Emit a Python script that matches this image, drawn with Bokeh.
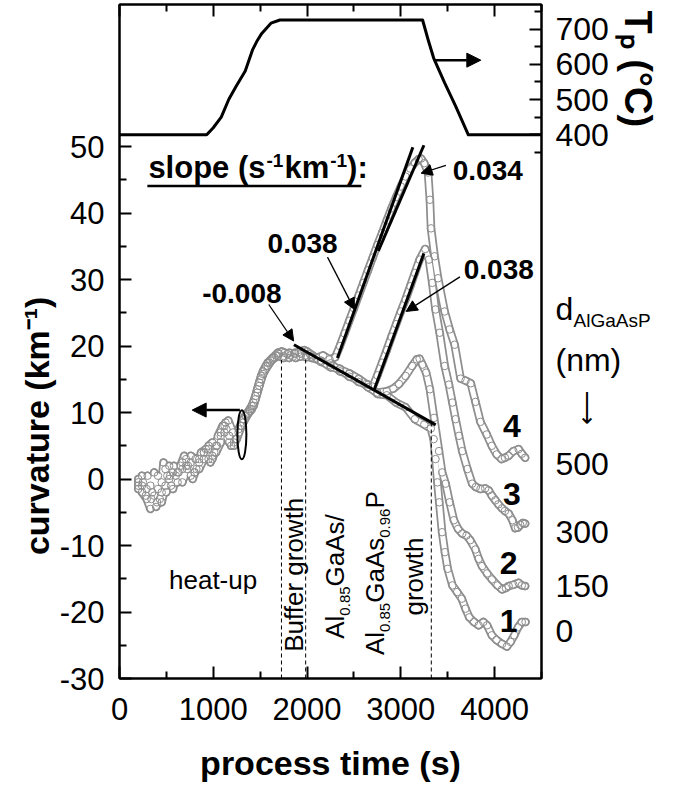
from math import pi
from bokeh.plotting import figure
from bokeh.models import (Range1d, LinearAxis, FixedTicker, Label, Arrow,
                          NormalHead, CustomJSTickFormatter)
from bokeh.embed import file_html
from bokeh.resources import INLINE

FONT = "Liberation Sans"

# ---------------- data ----------------
# curve 1 : d_AlGaAsP = 0 nm
c1_t = [200, 240, 290, 340, 390, 430, 470, 510, 550, 600, 650, 690, 730, 780, 820, 870, 920, 970, 1010, 1050,
        1100, 1140, 1190, 1240, 1290, 1340, 1390, 1430, 1470, 1510, 1550, 1600, 1650, 1700, 1760, 1820, 1880, 1940,
        2000, 2060, 2150, 2250, 2350, 2450, 2550, 2650, 2750, 2850, 2950, 3050, 3150, 3250, 3320, 3350, 3370, 3390,
        3410, 3440, 3470, 3500, 3550, 3600, 3650, 3690, 3730, 3780, 3830, 3880, 3920, 3970, 4020, 4080, 4130, 4170,
        4210, 4250, 4290, 4330]
c1_k = [-0.5, 0.5, -1.5, -3.0, -4.2, -3.0, 2.5, 0.5, -1.0, 0.5, 2.0, 3.5, 2.0, 0.0, 1.5, 4.0, 4.5, 2.5, 4.0, 6.5,
        8.0, 7.5, 5.0, 6.0, 8.0, 9.5, 10.5, 11.0, 13.0, 15.0, 16.5, 17.5, 18.3, 18.8, 19.0, 18.6, 18.2, 18.8,
        19.2, 18.6, 17.6, 17.4, 16.2, 15.8, 14.6, 14.2, 12.8, 12.6, 11.5, 10.8, 9.0, 8.2, 7.6, 6.0, 3.0, -0.5,
        -3.5, -8.0, -11.0, -13.5, -16.0, -17.0, -18.0, -19.5, -20.8, -21.5, -22.0, -21.5, -22.0, -23.5, -24.2,
        -24.8, -25.2, -24.5, -23.5, -22.3, -21.5, -21.5]
# curve 2 : 150 nm
c2_t = [200, 250, 300, 350, 400, 450, 490, 530, 570, 620, 670, 710, 760, 800, 850, 900, 950, 990, 1030, 1080,
        1120, 1170, 1220, 1270, 1320, 1370, 1410, 1450, 1490, 1530, 1580, 1630, 1690, 1750, 1810, 1870, 1930, 1990,
        2050, 2150, 2250, 2350, 2450, 2550, 2650, 2750, 2850, 2920, 2980, 3050, 3120, 3170, 3200, 3230, 3270, 3310,
        3354, 3407, 3440, 3478, 3520, 3566, 3610, 3655, 3700, 3740, 3796, 3830, 3866, 3920, 3972, 4030, 4079, 4120,
        4150, 4200, 4256, 4290, 4326]
c2_k = [-1.5, -0.5, 0.5, -2.0, -3.5, -2.0, 1.5, 0.0, -1.5, 1.0, 2.5, 2.0, 0.5, 1.0, 3.0, 4.0, 3.0, 3.5, 5.0, 6.5,
        7.0, 5.5, 5.0, 7.0, 8.5, 9.8, 10.5, 12.0, 14.0, 15.8, 17.0, 18.0, 18.5, 18.2, 19.0, 18.8, 18.4, 18.6,
        18.2, 17.8, 16.8, 16.6, 15.4, 15.0, 13.8, 13.0, 13.2, 13.6, 14.3, 15.5, 17.0, 18.0, 18.1, 17.2, 16.0, 13.5,
        9.2, 4.2, 1.0, -0.7, -3.5, -6.2, -7.5, -8.2, -8.5, -9.2, -10.6, -12.0, -13.1, -14.2, -15.1, -16.0, -16.6,
        -16.4, -16.1, -15.9, -15.6, -16.0, -16.1]
# curve 3 : 300 nm
c3_t = [200, 240, 280, 330, 370, 410, 450, 490, 530, 570, 620, 670, 710, 760, 800, 850, 900, 950, 990, 1040,
        1080, 1130, 1170, 1220, 1270, 1320, 1370, 1410, 1450, 1490, 1530, 1580, 1630, 1690, 1750, 1810, 1870, 1930,
        1990, 2050, 2150, 2250, 2350, 2450, 2550, 2630, 2700, 2750, 2800, 2850, 2900, 2950, 3000, 3050, 3100, 3150,
        3200, 3260, 3300, 3335, 3370, 3414, 3468, 3513, 3550, 3584, 3620, 3655, 3710, 3761, 3800, 3849, 3900, 3937,
        3970, 4008, 4040, 4079, 4110, 4150, 4190, 4220, 4250, 4274, 4300, 4326]
c3_k = [0.0, -1.0, -2.5, -1.0, 1.0, -1.5, -3.5, -1.0, 2.0, 1.0, -0.5, 1.5, 3.0, 2.5, 1.0, 2.5, 4.0, 4.5, 3.0, 5.0,
        7.0, 8.5, 6.5, 5.5, 7.5, 9.0, 10.0, 11.0, 12.5, 14.5, 16.2, 17.5, 18.2, 19.0, 18.5, 18.2, 19.0, 18.9,
        18.3, 18.4, 17.8, 17.1, 16.5, 15.9, 15.1, 14.3, 13.9, 15.6, 17.5, 19.4, 21.4, 23.3, 25.2, 27.0, 29.0, 31.0,
        33.0, 34.6, 33.0, 29.5, 25.5, 22.0, 17.0, 14.2, 11.5, 9.0, 6.5, 4.2, 1.5, -0.7, -1.2, -1.5, -1.4, -1.7,
        -2.5, -3.2, -3.8, -4.4, -4.8, -5.2, -6.2, -7.4, -7.3, -6.9, -6.6, -6.7]
# curve 4 : 500 nm
c4_t = [200, 240, 290, 330, 370, 410, 450, 500, 540, 580, 630, 670, 720, 760, 810, 850, 900, 950, 990, 1030,
        1080, 1120, 1160, 1210, 1250, 1300, 1350, 1390, 1430, 1470, 1510, 1560, 1610, 1670, 1730, 1790, 1850, 1910,
        1970, 2030, 2100, 2170, 2240, 2300, 2350, 2400, 2450, 2500, 2550, 2600, 2650, 2700, 2750, 2800, 2850, 2900,
        2950, 3000, 3050, 3100, 3150, 3190, 3217, 3250, 3290, 3310, 3322, 3360, 3397, 3467, 3520, 3574, 3637, 3690,
        3746, 3796, 3849, 3916, 3970, 4022, 4075, 4110, 4150, 4200, 4256, 4290, 4326]
c4_k = [-1.0, -2.0, -3.0, -4.5, -2.5, 0.5, -0.5, -2.0, 0.5, 2.0, 1.0, -0.5, 1.5, 3.5, 3.0, 1.5, 3.0, 5.0, 5.5, 4.0,
        5.5, 8.0, 8.8, 7.0, 6.0, 8.0, 9.5, 10.2, 11.5, 13.5, 15.5, 17.0, 17.8, 18.6, 19.2, 18.8, 18.4, 19.1,
        19.4, 18.8, 18.2, 18.6, 18.0, 18.3, 20.0, 21.9, 23.8, 25.7, 27.6, 29.5, 31.4, 33.3, 35.2, 37.0, 38.9, 40.7,
        42.4, 44.0, 45.5, 46.7, 47.6, 48.1, 48.2, 47.5, 46.1, 42.0, 37.7, 33.5, 30.2, 25.2, 22.5, 20.2, 15.1, 14.8,
        14.4, 11.6, 8.6, 6.7, 5.0, 3.7, 3.0, 3.2, 3.5, 4.2, 4.5, 3.8, 3.2]
curves_t = [c1_t, c2_t, c3_t, c4_t]
curves_k = [c1_k, c2_k, c3_k, c4_k]
curve_names = ["1", "2", "3", "4"]
thickness_nm = ["0", "150", "300", "500"]

# process temperature Tp (°C)
tp_t = [0, 930, 1000, 1085, 1166, 1244, 1341, 1420, 1470, 1517, 1615, 1711, 3232, 3291, 3350, 3466, 3583, 3720, 4500]
tp_T = [400, 400, 420, 450, 501, 538, 581, 642, 668, 688, 717, 726, 726, 670, 618, 548, 482, 400, 400]

# fitted slopes (s^-1 km^-1) : start/end points of the fit lines
slope_vals = ["0.038", "0.034", "0.038", "-0.008"]
slope_t0 = [2324, 2760, 2717, 1860]
slope_k0 = [18.2, 34.3, 13.46, 20.2]
slope_t1 = [3128, 3246, 3246, 3372]
slope_k1 = [49.9, 50.2, 33.94, 8.14]

# phase boundaries (dashed lines)
phase_t = [1727, 1985, 3325]
phase_top = [17.9, 18.1, 8.5]

# ticks
x_major = [0, 1000, 2000, 3000, 4000]
x_minor = [500, 1500, 2500, 3500, 4500]
k_major = [-30, -20, -10, 0, 10, 20, 30, 40, 50]
k_minor = [-25, -15, -5, 5, 15, 25, 35, 45]
T_major = [400, 500, 600, 700]
T_minor = [350, 450, 550, 650, 750]

# ---------------- font metrics (Arial / Liberation Sans) ----------------
REG = {'A': 667, 'l': 222, '.': 278, 'G': 778, 'a': 556, 's': 500, '/': 278, 'P': 667, 'B': 667, 'u': 556,
       'f': 278, 'e': 556, 'r': 333, ' ': 278, 'g': 556, 'o': 556, 'w': 722, 't': 278, 'h': 556, 'd': 556,
       'n': 556, 'm': 833, '(': 333, ')': 333, '-': 333}
BLD = {'s': 556, 'l': 278, 'o': 611, 'p': 611, 'e': 556, ' ': 278, '(': 333, ')': 333, ':': 333, 'k': 556,
       'm': 889, '-': 333, 'T': 611, '°': 400, 'C': 722, 'c': 556, 'u': 611, 'r': 389, 'v': 556, 'a': 556,
       't': 333, '.': 278}


def tw(text, size, bold=False):
    tab = BLD if bold else REG
    return sum(tab.get(ch, 556) for ch in text) * size / 1000.0


BASE_FIX = 0.36   # em: correction of the rendered alphabetic baseline

# ---------------- figure ----------------
FL, FR, FT, FB = 119, 543, 4, 687      # frame edges in canvas pixels
W, H = 661, 784
YMIN, YMAX = -30, 71.37
TMIN, TMAX = -1144.8, 770.1
p = figure(width=W, height=H, x_range=Range1d(0, 4500), y_range=Range1d(YMIN, YMAX),
           output_backend="svg", toolbar_location=None,
           min_border_left=FL, min_border_right=W - FR, min_border_top=FT, min_border_bottom=H - FB)
p.extra_y_ranges = {"temp": Range1d(TMIN, TMAX)}
p.xgrid.visible = False
p.ygrid.visible = False
p.outline_line_color = "black"
p.outline_line_width = 2
p.background_fill_color = "white"
p.border_fill_color = "white"


def style_axis(ax, size="31px"):
    ax.axis_line_width = 2
    ax.axis_line_color = "black"
    ax.major_tick_in = 12
    ax.major_tick_out = 0
    ax.minor_tick_in = 7
    ax.minor_tick_out = 0
    ax.major_tick_line_width = 2
    ax.minor_tick_line_width = 2
    ax.major_tick_line_color = "black"
    ax.minor_tick_line_color = "black"
    ax.major_label_text_font = FONT
    ax.major_label_text_font_size = size
    ax.major_label_text_color = "black"


def text_axis(y_range_name="default"):
    """an axis that only carries texts at chosen positions (no line, no ticks)"""
    ax = LinearAxis(y_range_name=y_range_name)
    ax.axis_line_color = None
    ax.major_tick_line_color = None
    ax.minor_tick_line_color = None
    ax.major_tick_in = 0
    ax.major_tick_out = 0
    ax.minor_tick_in = 0
    ax.minor_tick_out = 0
    ax.major_label_text_font = FONT
    ax.major_label_text_color = "black"
    return ax


xa = p.xaxis[0]
xa.ticker = FixedTicker(ticks=x_major, minor_ticks=x_minor)
style_axis(xa)
xa.major_label_standoff = 19
xa.axis_label = "process time (s)"
xa.axis_label_text_font = FONT
xa.axis_label_text_font_size = "34px"
xa.axis_label_text_font_style = "bold"
xa.axis_label_text_color = "black"
xa.axis_label_standoff = 21

ya = p.yaxis[0]
ya.ticker = FixedTicker(ticks=k_major, minor_ticks=k_minor)
style_axis(ya)
ya.major_label_standoff = 15
ya.major_label_overrides = {v: str(v) for v in k_major}

# left axis title (as a rotated text on an extra left axis)
k_title_pos = 8.0
yt = text_axis()
yt.ticker = FixedTicker(ticks=[k_title_pos], minor_ticks=[])
yt.major_label_overrides = {k_title_pos: "curvature (km\u207b\u00b9)"}
yt.major_label_text_font_size = "34px"
yt.major_label_text_font_style = "bold"
yt.major_label_orientation = "vertical"
yt.major_label_standoff = 0
p.add_layout(yt, "left")

top = LinearAxis(ticker=FixedTicker(ticks=x_major, minor_ticks=x_minor),
                 formatter=CustomJSTickFormatter(code="return ''"))
style_axis(top)
top.major_label_text_font_size = "0px"
top.major_label_standoff = 0
p.add_layout(top, "above")

# right: Tp tick marks (no labels)
ra = LinearAxis(y_range_name="temp", ticker=FixedTicker(ticks=T_major, minor_ticks=T_minor),
                formatter=CustomJSTickFormatter(code="return ''"))
style_axis(ra)
ra.major_label_text_font_size = "0px"
ra.major_label_standoff = 0
p.add_layout(ra, "right")


def T_to_k(T):
    return round(YMIN + (T - TMIN) * (YMAX - YMIN) / (TMAX - TMIN), 3)


# right: the downward arrow under "(nm)" (a rotated long arrow glyph)
arrow_pos = 8.1
rar = text_axis()
rar.ticker = FixedTicker(ticks=[arrow_pos], minor_ticks=[])
rar.major_label_overrides = {arrow_pos: "\u27f5"}
rar.major_label_text_font_size = "24px"
rar.major_label_orientation = pi / 2
rar.major_label_standoff = 45
p.add_layout(rar, "right")

# right: texts in the margin (Tp tick labels, thickness labels, d / (nm))
thick_pos = [-22.93, -16.10, -7.94, 2.23]
d_pos, nm_pos = 25.6, 17.9
rt_pos = [T_to_k(T) for T in T_major] + thick_pos + [d_pos, nm_pos]
rt_txt = [str(T) for T in T_major] + thickness_nm + ["d", "(nm)"]
rt = text_axis()
rt.ticker = FixedTicker(ticks=rt_pos, minor_ticks=[])
rt.major_label_overrides = dict(zip(rt_pos, rt_txt))
rt.major_label_text_font_size = "32px"
rt.major_label_standoff = -61
p.add_layout(rt, "right")

# right: subscript of d
sub_pos = 23.9
rs = text_axis()
rs.ticker = FixedTicker(ticks=[sub_pos], minor_ticks=[])
rs.major_label_overrides = {sub_pos: "AlGaAsP"}
rs.major_label_text_font_size = "19px"
rs.major_label_standoff = -51
p.add_layout(rs, "right")

# right: Tp axis title
tp_title_pos = 61.7
rtt = text_axis()
rtt.ticker = FixedTicker(ticks=[tp_title_pos], minor_ticks=[])
rtt.major_label_overrides = {tp_title_pos: "T\u209a (°C)"}
rtt.major_label_text_font_size = "38px"
rtt.major_label_text_font_style = "bold"
rtt.major_label_orientation = "vertical"
rtt.major_label_standoff = -37
p.add_layout(rtt, "right")

# ---------------- curves (open grey circles, densely sampled look) ----------------
GREY = "#8e8e8e"
for t, k in zip(curves_t, curves_k):
    p.line(t, k, line_color=GREY, line_width=8.5, line_join="round", line_cap="round")
for t, k in zip(curves_t, curves_k):
    p.line(t, k, line_color="white", line_width=5.0, line_join="round", line_cap="round")
for t, k in zip(curves_t, curves_k):
    p.scatter(t, k, marker="circle", size=7.5, fill_color="white", fill_alpha=0.0,
              line_color=GREY, line_width=1.0)

# temperature
p.line(tp_t, tp_T, y_range_name="temp", line_color="black", line_width=3, line_join="round")

# dashed phase boundaries
p.segment(x0=phase_t, y0=[YMIN] * len(phase_t), x1=phase_t, y1=phase_top,
          line_color="black", line_width=1, line_dash="4 3")

# slope fit lines
p.segment(x0=slope_t0, y0=slope_k0, x1=slope_t1, y1=slope_k1, line_color="black", line_width=3)

# ellipse marking the curves
p.ellipse(x=[1305], y=[6.66], width=96, height=7.4, fill_color=None, line_color="black", line_width=2)


def arrow(x0, y0, x1, y1, lw=1.3, size=11, yr="default"):
    p.add_layout(Arrow(end=NormalHead(size=size, fill_color="black", line_color="black", line_width=1),
                       x_start=x0, y_start=y0, x_end=x1, y_end=y1, line_width=lw, line_color="black",
                       y_range_name=yr))


arrow(1284, 10.37, 775, 10.37, lw=2.5, size=14)
arrow(3354, 612, 3853, 612, lw=2.5, size=14, yr="temp")

# slope annotation arrows
arrow(1592, 26.25, 1857, 20.76)
arrow(2218, 33.38, 2505, 25.51)
arrow(3630, 30.41, 3057, 25.21)
arrow(3481, 47.18, 3216, 45.99)


def lab(x, y, text, size, bold=False, angle=0.0, align="left", xo=0.0, yo=0.0):
    fix = BASE_FIX * size
    if angle == 0.0:
        yo = yo + fix
    else:
        xo = xo - fix
    p.add_layout(Label(x=x, y=y, text=text, text_font=FONT, text_font_size=f"{size}px",
                       text_font_style="bold" if bold else "normal", text_color="black", angle=angle,
                       text_align=align, text_baseline="alphabetic", x_offset=xo, y_offset=yo))


# slope header with underline
w0 = tw("slope (s", 31, True)
w1 = w0 + tw("-1", 19, True)
w2 = w1 + tw("km", 31, True)
w3 = w2 + tw("-1", 19, True)
lab(308, 45.25, "slope (s", 31, True)
lab(308, 45.25, "-1", 19, True, xo=w0 + 1, yo=11)
lab(308, 45.25, "km", 31, True, xo=w1 + 2)
lab(308, 45.25, "-1", 19, True, xo=w2 + 3, yo=11)
lab(308, 45.25, "):", 31, True, xo=w3 + 3)
p.segment(x0=[297], y0=[44.06], x1=[2579], y1=[44.06], line_color="black", line_width=2.5)

# slope values
lab(3927, 44.95, slope_vals[1], 28, True, align="center")
lab(1953, 33.97, slope_vals[0], 28, True, align="center")
lab(4044, 29.96, slope_vals[2], 28, True, align="center")
lab(1305, 26.40, slope_vals[3], 28, True, align="center")

# process phases
lab(998, -16.64, "heat-up", 26, align="center")
lab(1960, -25.99, "Buffer growth", 26, angle=pi / 2)
a1 = tw("Al", 26)
s1 = tw("0.85", 15)
lab(2399, -24.02, "Al", 26, angle=pi / 2)
lab(2399, -24.02, "0.85", 15, angle=pi / 2, xo=6, yo=a1)
lab(2399, -24.02, "GaAs/", 26, angle=pi / 2, yo=a1 + s1)
g1 = tw("GaAs", 26)
lab(2823, -26.48, "Al", 26, angle=pi / 2)
lab(2823, -26.48, "0.85", 15, angle=pi / 2, xo=6, yo=a1)
lab(2823, -26.48, "GaAs", 26, angle=pi / 2, yo=a1 + s1)
lab(2823, -26.48, "0.96", 15, angle=pi / 2, xo=6, yo=a1 + s1 + g1)
lab(2823, -26.48, "P", 26, angle=pi / 2, yo=a1 + 2 * s1 + g1)
lab(3237, -20.53, "growth", 26, angle=pi / 2)

# curve numbers
num_t = [4150, 4150, 4185, 4185]
num_k = [-23.02, -14.34, -3.95, 6.22]
for name, xx, yy in zip(curve_names, num_t, num_k):
    lab(xx, yy, name, 32, True, align="center")

open("out.html", "w").write(file_html(p, INLINE))
